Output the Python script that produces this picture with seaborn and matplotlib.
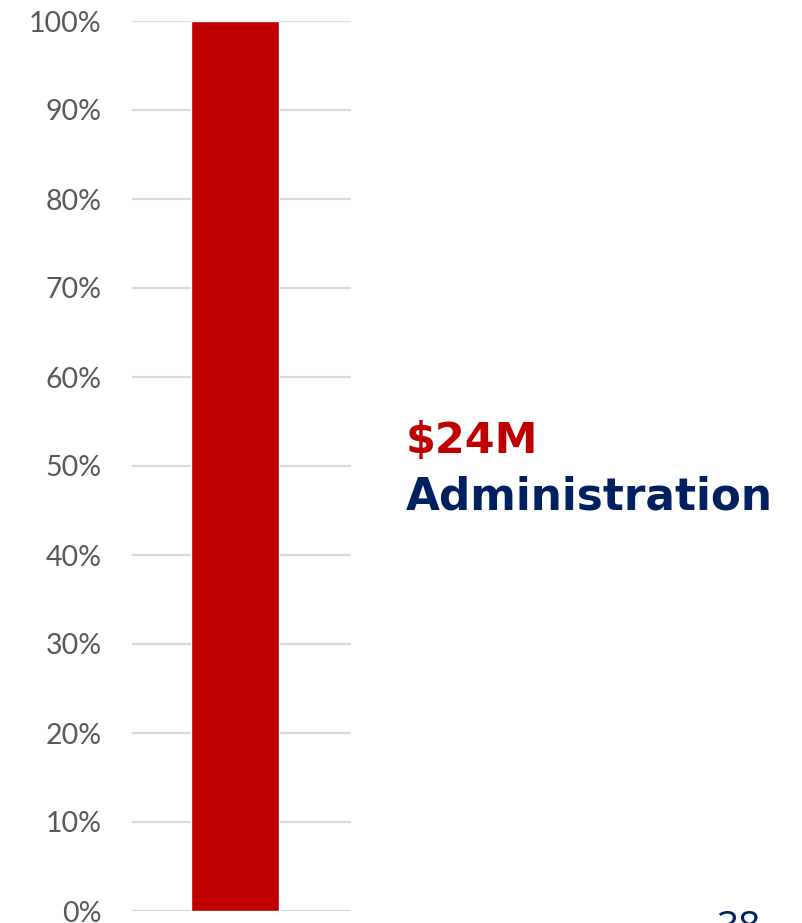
import matplotlib
matplotlib.use("Agg")
import matplotlib.pyplot as plt
import matplotlib.ticker as mticker
import pandas as pd
import seaborn as sns

categories = ["Administration"]
shares = [1.0]
amount_label = "$24M"
tick_values = [0.0, 0.1, 0.2, 0.3, 0.4, 0.5, 0.6, 0.7, 0.8, 0.9, 1.0]
page_number = "38"

sns.set_theme(style="white")
plt.rcParams["font.family"] = ["Lato", "DejaVu Sans"]

df = pd.DataFrame({"category": categories, "share": shares})

fig = plt.figure(figsize=(8.02, 9.23), dpi=100)
W, H = 802, 923
ax = fig.add_axes([132 / W, (H - 911) / H, (351 - 132) / W, (911 - 21) / H])

sns.barplot(data=df, x="category", y="share", color="#C00000", width=0.402,
            saturation=1, ax=ax, zorder=3)

ax.set_xlim(-0.47, 0.53)
ax.set_ylim(0, 1)
ax.set_yticks(tick_values)
ax.yaxis.set_major_formatter(mticker.PercentFormatter(1.0, decimals=0))
ax.grid(axis="y", color="#d9d9d9", linewidth=1.6, zorder=0)
ax.grid(axis="x", visible=False)
for s in ax.spines.values():
    s.set_visible(False)
ax.set_xticks([])
ax.set_xlabel("")
ax.set_ylabel("")
ax.tick_params(axis="y", length=0, pad=22, labelsize=20.5, labelcolor="#595959")
for lbl in ax.get_yticklabels():
    lbl.set_clip_on(False)

label_font = ["DejaVu Sans"]
fig.text(406 / W, 1 - 441 / H, amount_label, color="#C00000", fontsize=31,
         fontweight="bold", family=label_font, va="center", ha="left")
fig.text(406 / W, 1 - 497 / H, categories[0], color="#002060", fontsize=31.5,
         fontweight="bold", family=label_font, va="center", ha="left")
fig.text(738 / W, 1 - 929 / H, page_number, color="#002060", fontsize=28,
         family=["Open Sans", "DejaVu Sans"], va="center", ha="center")

fig.savefig("out.png", dpi=100, facecolor="white")
